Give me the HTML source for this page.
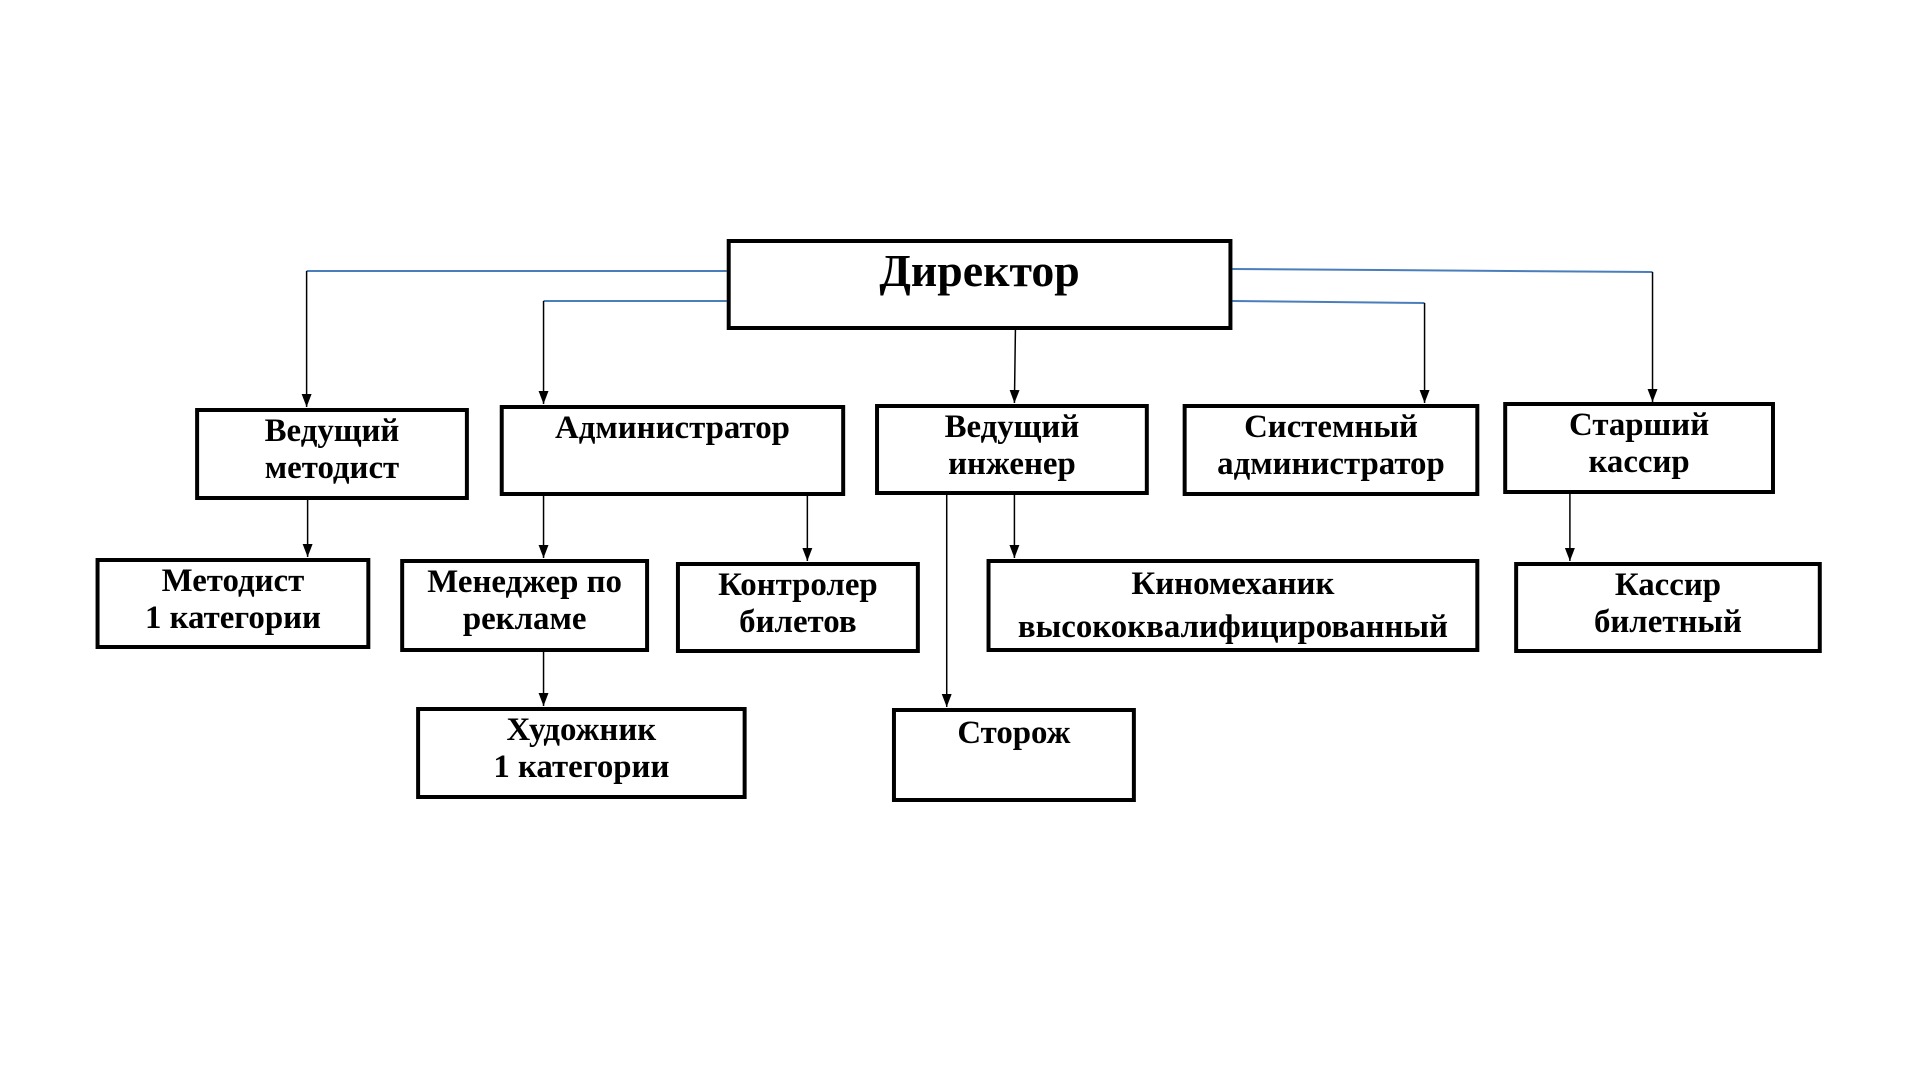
<!DOCTYPE html>
<html><head><meta charset="utf-8"><style>
body{margin:0;width:1920px;height:1080px;background:#fff;position:relative;overflow:hidden;font-family:"Liberation Serif","Times New Roman",serif;font-weight:bold;}
#w{position:absolute;left:0;top:0;width:1920px;height:1080px;transform:translate(0,-2px) scale(0.9955,1);transform-origin:0 0;}
.b{position:absolute;box-sizing:border-box;border:4px solid #000;text-align:center;font-size:33px;line-height:37px;padding-top:1px;color:#000;}
svg{position:absolute;left:0;top:0}
</style></head><body><div id="w">
<svg width="1920" height="1080">
<defs><marker id="a" markerWidth="13" markerHeight="10" refX="13" refY="5" orient="auto" markerUnits="userSpaceOnUse"><path d="M0,0 L13,5 L0,10 z" fill="#000"/></marker></defs>
<g stroke="#4a7ebb" stroke-width="2" fill="none">
<path d="M730,273 L308,273"/>
<path d="M730,303 L546,303"/>
<path d="M1238,271 L1660,274"/>
<path d="M1238,303 L1431,305"/>
</g>
<g stroke="#000" stroke-width="1.5" fill="none" marker-end="url(#a)">
<path d="M308,273 L308,409"/>
<path d="M546,303 L546,406"/>
<path d="M1660,274 L1660,404"/>
<path d="M1431,305 L1431,405"/>
<path d="M1020,332 L1019,405"/>
<path d="M309,502 L309,559"/>
<path d="M546,498 L546,560"/>
<path d="M811,498 L811,563"/>
<path d="M1019,497 L1019,560"/>
<path d="M951,497 L951,709"/>
<path d="M1577,496 L1577,563"/>
<path d="M546,654 L546,708"/>
</g>
</svg>
<div class="b" style="left:730px;top:241px;width:508px;height:91px;font-size:46px;line-height:56px;padding-top:0">Директор</div>
<div class="b" style="left:196px;top:410px;width:275px;height:92px">Ведущий<br>методист</div>
<div class="b" style="left:502px;top:407px;width:347px;height:91px">Администратор</div>
<div class="b" style="left:879px;top:406px;width:275px;height:91px">Ведущий<br>инженер</div>
<div class="b" style="left:1188px;top:406px;width:298px;height:92px">Системный<br>администратор</div>
<div class="b" style="left:1510px;top:404px;width:273px;height:92px">Старший<br>кассир</div>
<div class="b" style="left:96px;top:560px;width:276px;height:91px">Методист<br>1 категории</div>
<div class="b" style="left:402px;top:561px;width:250px;height:93px">Менеджер по<br>рекламе</div>
<div class="b" style="left:679px;top:564px;width:245px;height:91px">Контролер<br>билетов</div>
<div class="b" style="left:991px;top:561px;width:495px;height:93px;line-height:43px;padding-top:0">Киномеханик<br>высококвалифицированный</div>
<div class="b" style="left:1521px;top:564px;width:309px;height:91px">Кассир<br>билетный</div>
<div class="b" style="left:418px;top:709px;width:332px;height:92px">Художник<br>1 категории</div>
<div class="b" style="left:896px;top:710px;width:245px;height:94px;padding-top:3px">Сторож</div>
</div></body></html>
